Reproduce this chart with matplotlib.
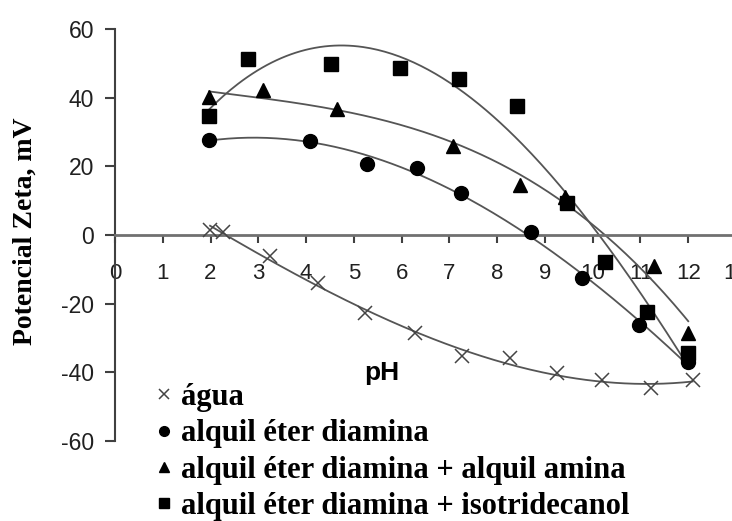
import numpy as np
import matplotlib.pyplot as plt
from matplotlib.lines import Line2D

plt.rcParams["axes.unicode_minus"] = False

# data (pH, zeta potential in mV)
agua_ph = [1.99, 2.26, 3.24, 4.25, 5.23, 6.28, 7.26, 8.26, 9.25, 10.2, 11.23, 12.09]
agua_mv = [1.5, 1.0, -6.1, -14.0, -22.7, -28.6, -35.3, -35.9, -40.2, -42.3, -44.6, -42.3]

ed_ph = [1.97, 4.08, 5.27, 6.32, 7.24, 8.7, 9.77, 10.96, 12.0]
ed_mv = [27.7, 27.4, 20.7, 19.5, 12.2, 0.9, -12.5, -26.2, -37.0]

eda_ph = [1.97, 3.1, 4.64, 7.07, 8.47, 9.41, 11.28, 12.0]
eda_mv = [40.2, 42.3, 36.7, 26.0, 14.6, 11.0, -9.0, -28.6]

edi_ph = [1.97, 2.78, 4.52, 5.96, 7.2, 8.41, 9.46, 10.25, 11.13, 12.0]
edi_mv = [34.7, 51.3, 49.9, 48.7, 45.5, 37.6, 9.3, -7.9, -22.5, -34.4]

labels = ["água", "alquil éter diamina",
          "alquil éter diamina + alquil amina",
          "alquil éter diamina + isotridecanol"]

W, H = 732, 521
fig = plt.figure(figsize=(W / 100, H / 100), dpi=100)
ax = fig.add_axes([115 / W, (H - 441) / H, 621 / W, 412 / H])

line_c = "#555555"
series = [
    (agua_ph, agua_mv, dict(marker="x", color="#444444", ms=10, mew=1.1)),
    (ed_ph, ed_mv, dict(marker="o", color="black", ms=10)),
    (eda_ph, eda_mv, dict(marker="^", color="black", ms=10)),
    (edi_ph, edi_mv, dict(marker="s", color="black", ms=10)),
]
for xs, ys, st in series:
    coef = np.polyfit(xs, ys, 3)
    xx = np.linspace(min(xs), max(xs), 200)
    ax.plot(xx, np.polyval(coef, xx), color=line_c, lw=1.3, zorder=2)
    ax.plot(xs, ys, ls="none", zorder=3, **st)

ax.set_xlim(0, 13)
ax.set_ylim(-60, 60)
ax.spines["top"].set_visible(False)
ax.spines["right"].set_visible(False)
ax.spines["bottom"].set_position(("data", 0))
ax.spines["bottom"].set_color("#707070")
ax.spines["bottom"].set_linewidth(2)
ax.spines["left"].set_color("#404040")
ax.spines["left"].set_linewidth(1.5)

ax.set_xticks(range(0, 14))
ax.set_yticks(range(-60, 61, 20))
ax.tick_params(axis="x", direction="out", length=6, width=1.5, color="#404040",
               pad=14, labelsize=16)
ax.tick_params(axis="y", direction="out", length=7, width=1.5, color="#404040",
               pad=8, labelsize=16.5)
for t in ax.get_xticklabels() + ax.get_yticklabels():
    t.set_fontfamily("Liberation Sans")
    t.set_color("#202020")

ax.text(5.59, -40.2, "pH", ha="center", va="center", fontsize=19,
        fontweight="bold", family="Liberation Sans")
fig.text(25 / W, 1 - 231 / H, "Potencial Zeta, mV", rotation=90, ha="center",
         va="center", fontsize=20, fontweight="bold", family="Liberation Serif")

handles = [
    Line2D([], [], ls="none", marker="x", color="#444444", ms=7, mew=1.1),
    Line2D([], [], ls="none", marker="o", color="black", ms=7),
    Line2D([], [], ls="none", marker="^", color="black", ms=7),
    Line2D([], [], ls="none", marker="s", color="black", ms=7),
]
fig.legend(handles, labels, loc="upper left", bbox_to_anchor=(158 / W, 1 - 383 / H),
           frameon=False, handlelength=0.4, handletextpad=0.35, labelspacing=0.24,
           borderaxespad=0, borderpad=0,
           prop=dict(family="Liberation Serif", weight="bold", size=22))

fig.savefig("out.png", dpi=100)
